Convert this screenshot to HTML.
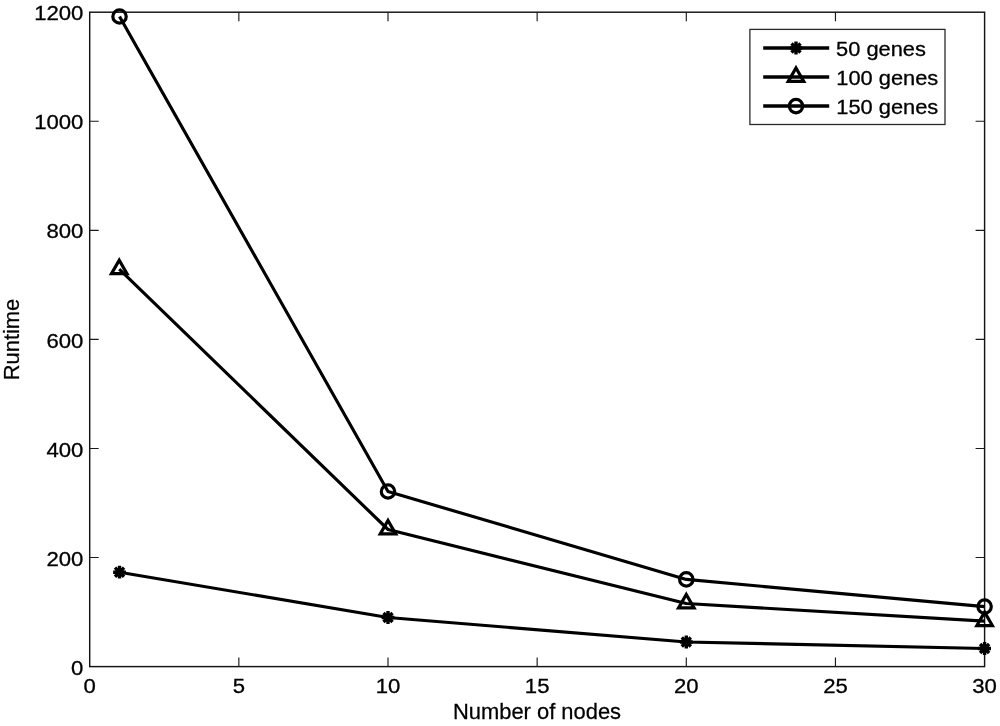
<!DOCTYPE html>
<html lang="en">
<head>
<meta charset="utf-8">
<title>Runtime vs number of nodes</title>
<style>
html,body{margin:0;padding:0;background:#fff;}
body{width:1000px;height:726px;overflow:hidden;}
svg{display:block;}
text{font-family:"Liberation Sans", "DejaVu Sans", sans-serif;fill:#000;stroke:#000;}
</style>
</head>
<body>
<svg width="1000" height="726" viewBox="0 0 1000 726" font-family='"Liberation Sans", "DejaVu Sans", sans-serif' fill="#000" stroke-width="0.3">
<rect x="0" y="0" width="1000" height="726" fill="#fff"/>
<rect x="89.7" y="12.2" width="894.9" height="654.4" fill="none" stroke="#141414" stroke-width="1.45"/>
<path d="M238.85,666.6 v-9.0 M238.85,12.2 v9.0 M388,666.6 v-9.0 M388,12.2 v9.0 M537.15,666.6 v-9.0 M537.15,12.2 v9.0 M686.3,666.6 v-9.0 M686.3,12.2 v9.0 M835.45,666.6 v-9.0 M835.45,12.2 v9.0 M89.7,557.53 h9.0 M984.6,557.53 h-9.0 M89.7,448.47 h9.0 M984.6,448.47 h-9.0 M89.7,339.4 h9.0 M984.6,339.4 h-9.0 M89.7,230.33 h9.0 M984.6,230.33 h-9.0 M89.7,121.27 h9.0 M984.6,121.27 h-9.0" stroke="#1a1a1a" stroke-width="1.15" fill="none"/>
<polyline points="119.53,572.2 388,617.5 686.3,642 984.6,648.5" fill="none" stroke="#000" stroke-width="3.15" stroke-linejoin="round"/>
<polyline points="119.23,269.2 388,529.5 686.3,603.5 984.6,621.1" fill="none" stroke="#000" stroke-width="3.15" stroke-linejoin="round"/>
<polyline points="119.53,16.5 388,491.5 686.3,579.4 984.6,606.6" fill="none" stroke="#000" stroke-width="3.15" stroke-linejoin="round"/>
<path d="M113.13,572.2 H125.93 M119.53,565.8 V578.6 M115,567.67 L124.06,576.73 M115,576.73 L124.06,567.67" stroke="#000" stroke-width="3.4" fill="none" stroke-linecap="butt"/>
<path d="M381.6,617.5 H394.4 M388,611.1 V623.9 M383.47,612.97 L392.53,622.03 M383.47,622.03 L392.53,612.97" stroke="#000" stroke-width="3.4" fill="none" stroke-linecap="butt"/>
<path d="M679.9,642 H692.7 M686.3,635.6 V648.4 M681.77,637.47 L690.83,646.53 M681.77,646.53 L690.83,637.47" stroke="#000" stroke-width="3.4" fill="none" stroke-linecap="butt"/>
<path d="M978.2,648.5 H991 M984.6,642.1 V654.9 M980.07,643.97 L989.13,653.03 M980.07,653.03 L989.13,643.97" stroke="#000" stroke-width="3.4" fill="none" stroke-linecap="butt"/>
<path d="M119.23,260.25 L126.98,273.67 L111.48,273.67 Z" stroke="#000" stroke-width="3.2" fill="none" stroke-linejoin="miter"/>
<path d="M388,520.55 L395.75,533.97 L380.25,533.97 Z" stroke="#000" stroke-width="3.2" fill="none" stroke-linejoin="miter"/>
<path d="M686.3,594.55 L694.05,607.97 L678.55,607.97 Z" stroke="#000" stroke-width="3.2" fill="none" stroke-linejoin="miter"/>
<path d="M984.6,612.15 L992.35,625.57 L976.85,625.57 Z" stroke="#000" stroke-width="3.2" fill="none" stroke-linejoin="miter"/>
<circle cx="119.53" cy="16.5" r="6.7" stroke="#000" stroke-width="3.2" fill="none"/>
<circle cx="388" cy="491.5" r="6.7" stroke="#000" stroke-width="3.2" fill="none"/>
<circle cx="686.3" cy="579.4" r="6.7" stroke="#000" stroke-width="3.2" fill="none"/>
<circle cx="984.6" cy="606.6" r="6.7" stroke="#000" stroke-width="3.2" fill="none"/>
<rect x="749.9" y="29.4" width="195.1" height="95.1" fill="#fff" stroke="#2a2a2a" stroke-width="1.3"/>
<path d="M763.2,48 H829.2" stroke="#000" stroke-width="3.5" fill="none"/>
<path d="M763.2,76.9 H829.2" stroke="#000" stroke-width="3.5" fill="none"/>
<path d="M763.2,106.1 H829.2" stroke="#000" stroke-width="3.5" fill="none"/>
<path d="M789.6,48 H802.4 M796,41.6 V54.4 M791.47,43.47 L800.53,52.53 M791.47,52.53 L800.53,43.47" stroke="#000" stroke-width="3.4" fill="none"/>
<path d="M796,67.95 L803.75,81.37 L788.25,81.37 Z" stroke="#000" stroke-width="3.2" fill="none"/>
<circle cx="796" cy="106.1" r="6.7" stroke="#000" stroke-width="3.2" fill="none"/>
<text transform="translate(83.4,674.7) scale(1.0800,1.0000)" font-size="20.5" text-anchor="end">0</text>
<text transform="translate(83.4,565.63) scale(1.0800,1.0000)" font-size="20.5" text-anchor="end">200</text>
<text transform="translate(83.4,456.57) scale(1.0800,1.0000)" font-size="20.5" text-anchor="end">400</text>
<text transform="translate(83.4,347.5) scale(1.0800,1.0000)" font-size="20.5" text-anchor="end">600</text>
<text transform="translate(83.4,238.43) scale(1.0800,1.0000)" font-size="20.5" text-anchor="end">800</text>
<text transform="translate(83.4,129.37) scale(1.0800,1.0000)" font-size="20.5" text-anchor="end">1000</text>
<text transform="translate(83.4,20.3) scale(1.0800,1.0000)" font-size="20.5" text-anchor="end">1200</text>
<text transform="translate(89.7,692.5) scale(1.0800,1.0000)" font-size="20.5" text-anchor="middle">0</text>
<text transform="translate(238.85,692.5) scale(1.0800,1.0000)" font-size="20.5" text-anchor="middle">5</text>
<text transform="translate(388,692.5) scale(1.0800,1.0000)" font-size="20.5" text-anchor="middle">10</text>
<text transform="translate(537.15,692.5) scale(1.0800,1.0000)" font-size="20.5" text-anchor="middle">15</text>
<text transform="translate(686.3,692.5) scale(1.0800,1.0000)" font-size="20.5" text-anchor="middle">20</text>
<text transform="translate(835.45,692.5) scale(1.0800,1.0000)" font-size="20.5" text-anchor="middle">25</text>
<text transform="translate(984.6,692.5) scale(1.0800,1.0000)" font-size="20.5" text-anchor="middle">30</text>
<text transform="translate(537,719.4) scale(1.0200,1.0000)" font-size="21.5" text-anchor="middle" stroke-width="0.25">Number of nodes</text>
<text transform="translate(19.2,339.5) rotate(-90) scale(1.0200,1.0000)" font-size="21.5" text-anchor="middle" stroke-width="0.25">Runtime</text>
<text transform="translate(836.1,55.8) scale(1.0650,1.0000)" font-size="20.5" text-anchor="start">50 genes</text>
<text transform="translate(836.3,84.9) scale(1.0650,1.0000)" font-size="20.5" text-anchor="start">100 genes</text>
<text transform="translate(836.3,114) scale(1.0650,1.0000)" font-size="20.5" text-anchor="start">150 genes</text>
</svg>
</body>
</html>
